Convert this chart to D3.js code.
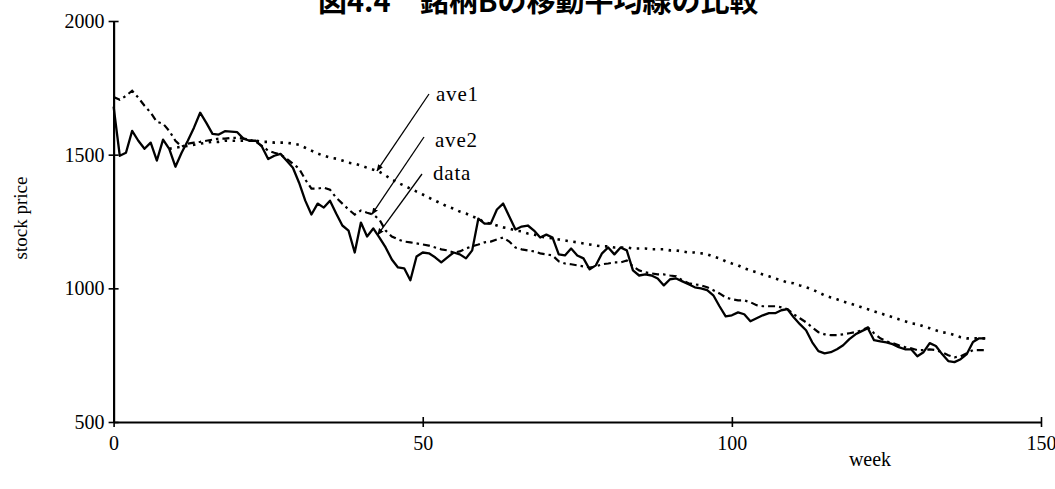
<!DOCTYPE html>
<html>
<head>
<meta charset="utf-8">
<script src="https://cdn.jsdelivr.net/npm/d3@7"></script>
<style>
  html, body { margin: 0; padding: 0; background: #fff; }
  svg { display: block; }
</style>
</head>
<body>
<svg id="chart" width="1055" height="489"></svg>
<script>
// Axis ticks
const weekTicks = [0, 50, 100, 150];
const priceTicks = [500, 1000, 1500, 2000];

// Weekly closing price of stock B (weeks 0..141)
const dataSeries = [
  1680,1496,1507,1589,1552,1522,1545,1478,1556,1522,
  1455,1507,1552,1601,1657,1619,1578,1575,1588,1586,
  1584,1560,1552,1552,1530,1484,1496,1503,1477,1451,
  1395,1328,1276,1317,1302,1328,1280,1235,1216,1134,
  1246,1194,1224,1190,1153,1108,1078,1075,1030,1119,
  1134,1131,1116,1097,1116,1134,1127,1112,1142,1261,
  1242,1242,1295,1317,1269,1220,1231,1235,1216,1190,
  1201,1190,1127,1123,1149,1123,1112,1071,1086,1131,
  1153,1127,1153,1142,1067,1048,1052,1048,1037,1011,
  1034,1037,1026,1015,1004,1000,993,974,933,895,
  899,910,903,877,888,899,907,907,918,922,
  892,866,843,798,765,757,761,772,787,810,
  828,840,851,806,802,798,791,780,772,772,
  746,761,795,784,754,728,724,735,754,799,
  813,813
];

// Long-term moving average (not drawn for the first weeks)
const ave1Series = [
  null,null,null,null,null,null,null,null,null,1522,
  1526,1530,1533,1537,1541,1545,1548,1548,1552,1552,
  1552,1552,1552,1552,1548,1548,1545,1545,1545,1541,
  1537,1526,1515,1504,1496,1489,1485,1478,1470,1466,
  1459,1451,1444,1436,1422,1407,1395,1384,1373,1362,
  1351,1339,1328,1317,1306,1298,1287,1280,1269,1261,
  1246,1242,1235,1228,1224,1216,1213,1205,1201,1194,
  1190,1187,1183,1179,1175,1172,1168,1164,1160,1157,
  1157,1153,1153,1153,1149,1149,1149,1146,1146,1146,
  1142,1142,1138,1134,1134,1131,1127,1119,1112,1101,
  1093,1086,1075,1067,1060,1052,1045,1037,1030,1022,
  1019,1011,1004,996,985,974,966,959,951,944,
  937,929,922,914,907,899,892,884,877,869,
  866,858,851,843,836,832,825,817,813,813,
  813,813
];

// Short-term moving average
const ave2Series = [
  1716,1705,1720,1739,1713,1683,1657,1623,1616,1589,
  1552,1530,1541,1545,1548,1552,1556,1560,1560,1563,
  1563,1560,1556,1548,1533,1515,1507,1500,1485,1466,
  1448,1407,1373,1373,1377,1369,1339,1317,1295,1276,
  1291,1283,1276,1257,1216,1194,1183,1175,1172,1168,
  1164,1160,1153,1146,1142,1134,1138,1149,1157,1164,
  1172,1175,1183,1190,1175,1153,1146,1142,1138,1131,
  1127,1123,1101,1093,1090,1086,1082,1078,1082,1090,
  1093,1097,1097,1104,1082,1067,1060,1056,1052,1052,
  1048,1045,1030,1019,1015,1011,1004,993,981,966,
  959,955,955,948,937,933,933,933,929,922,
  903,888,873,854,836,828,825,825,828,832,
  836,843,854,832,813,802,795,787,780,776,
  769,769,772,769,761,750,742,746,757,769,
  769,769
];

const serif = "'Liberation Serif', 'DejaVu Serif', serif";
const svg = d3.select("#chart");

const x = d3.scaleLinear().domain([0, 150]).range([113.6, 1041]);
const y = d3.scaleLinear().domain([500, 2000]).range([422, 21]);

// Title
svg.append("text")
  .attr("x", 318).attr("y", 12)
  .attr("font-family", "'Noto Sans CJK JP', sans-serif")
  .attr("font-weight", 700)
  .attr("font-size", 29)
  .attr("fill", "#000")
  .text("図4.4　銘柄Bの移動平均線の比較");

// Y axis
const yAxis = svg.append("g")
  .attr("transform", `translate(${x(0)},0)`)
  .call(d3.axisLeft(y).tickValues(priceTicks).tickFormat(d3.format("d"))
    .tickSize(5).tickPadding(4).tickSizeOuter(0));
yAxis.select(".domain").attr("stroke", "#000").attr("stroke-width", 2.2);
yAxis.selectAll(".tick line").attr("x1", -5).attr("x2", 5).attr("stroke-width", 1.6);
yAxis.selectAll(".tick text").attr("font-family", serif).attr("font-size", 20).attr("fill", "#000");

// X axis
const xAxis = svg.append("g")
  .attr("transform", `translate(0,${y(500)})`)
  .call(d3.axisBottom(x).tickValues(weekTicks).tickFormat(d3.format("d"))
    .tickSize(5).tickPadding(9).tickSizeOuter(0));
xAxis.select(".domain").attr("stroke", "#000").attr("stroke-width", 2.2);
xAxis.selectAll(".tick line").attr("y1", -5).attr("y2", 5).attr("stroke-width", 1.6);
xAxis.selectAll(".tick text").attr("font-family", serif).attr("font-size", 20).attr("fill", "#000");

// Axis titles
svg.append("text")
  .attr("transform", "translate(27,218) rotate(-90)")
  .attr("text-anchor", "middle")
  .attr("font-family", serif).attr("font-size", 19)
  .text("stock price");
svg.append("text")
  .attr("x", 870).attr("y", 466)
  .attr("text-anchor", "middle")
  .attr("font-family", serif).attr("font-size", 20)
  .text("week");

// Series lines
const lineFor = series => d3.line()
  .defined((d, i) => series[i] != null)
  .x((d, i) => x(i))
  .y((d, i) => y(series[i]));

const plot = svg.append("g").attr("fill", "none").attr("stroke", "#000");

plot.append("path")
  .datum(ave1Series)
  .attr("d", lineFor(ave1Series))
  .attr("stroke-width", 2.6)
  .attr("stroke-dasharray", "2.5,5.5");

plot.append("path")
  .datum(ave2Series)
  .attr("d", lineFor(ave2Series))
  .attr("stroke-width", 2.2)
  .attr("stroke-dasharray", "7,4,2.5,4");

plot.append("path")
  .datum(dataSeries)
  .attr("d", lineFor(dataSeries))
  .attr("stroke-width", 2.3)
  .attr("stroke-linejoin", "round");

// Annotation arrows pointing at each series
svg.append("defs").append("marker")
  .attr("id", "head")
  .attr("viewBox", "0 0 10 10")
  .attr("refX", 9).attr("refY", 5)
  .attr("markerWidth", 7).attr("markerHeight", 7)
  .attr("markerUnits", "userSpaceOnUse")
  .attr("orient", "auto")
  .append("path").attr("d", "M0,1 L10,5 L0,9 Z").attr("fill", "#000");

const valueAt = (series, w) => {
  const i = Math.floor(w), t = w - i;
  return series[i] + (series[i + 1] - series[i]) * t;
};

const notes = [
  { label: "ave1", series: ave1Series, week: 42.6, from: [429, 94], text: [436, 101] },
  { label: "ave2", series: ave2Series, week: 41.8, from: [424, 137], text: [435, 147] },
  { label: "data", series: dataSeries, week: 42.7, from: [422, 174], text: [433, 180] }
];

notes.forEach(n => {
  svg.append("line")
    .attr("x1", n.from[0]).attr("y1", n.from[1])
    .attr("x2", x(n.week)).attr("y2", y(valueAt(n.series, n.week)))
    .attr("stroke", "#000").attr("stroke-width", 1.3)
    .attr("marker-end", "url(#head)");
  svg.append("text")
    .attr("x", n.text[0]).attr("y", n.text[1])
    .attr("font-family", serif).attr("font-size", 21)
    .attr("letter-spacing", 0.8)
    .text(n.label);
});
</script>
</body>
</html>
